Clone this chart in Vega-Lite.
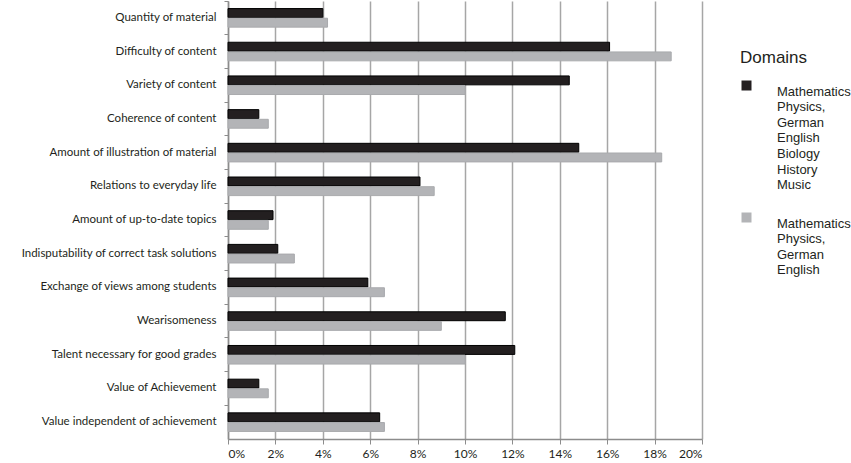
{
  "$schema": "https://vega.github.io/schema/vega-lite/v6.json",
  "autosize": "none",
  "width": 474,
  "height": 438,
  "padding": {"left": 228, "top": 1, "right": 149, "bottom": 24},
  "background": "white",
  "data": {
    "values": [
      {"item": "Quantity of material", "domain": "A", "value": 4.0},
      {"item": "Quantity of material", "domain": "B", "value": 4.2},
      {"item": "Difficulty of content", "domain": "A", "value": 16.1},
      {"item": "Difficulty of content", "domain": "B", "value": 18.7},
      {"item": "Variety of content", "domain": "A", "value": 14.4},
      {"item": "Variety of content", "domain": "B", "value": 10.0},
      {"item": "Coherence of content", "domain": "A", "value": 1.3},
      {"item": "Coherence of content", "domain": "B", "value": 1.7},
      {"item": "Amount of illustration of material", "domain": "A", "value": 14.8},
      {"item": "Amount of illustration of material", "domain": "B", "value": 18.3},
      {"item": "Relations to everyday life", "domain": "A", "value": 8.1},
      {"item": "Relations to everyday life", "domain": "B", "value": 8.7},
      {"item": "Amount of up-to-date topics", "domain": "A", "value": 1.9},
      {"item": "Amount of up-to-date topics", "domain": "B", "value": 1.7},
      {"item": "Indisputability of correct task solutions", "domain": "A", "value": 2.1},
      {"item": "Indisputability of correct task solutions", "domain": "B", "value": 2.8},
      {"item": "Exchange of views among students", "domain": "A", "value": 5.9},
      {"item": "Exchange of views among students", "domain": "B", "value": 6.6},
      {"item": "Wearisomeness", "domain": "A", "value": 11.7},
      {"item": "Wearisomeness", "domain": "B", "value": 9.0},
      {"item": "Talent necessary for good grades", "domain": "A", "value": 12.1},
      {"item": "Talent necessary for good grades", "domain": "B", "value": 10.0},
      {"item": "Value of Achievement", "domain": "A", "value": 1.3},
      {"item": "Value of Achievement", "domain": "B", "value": 1.7},
      {"item": "Value independent of achievement", "domain": "A", "value": 6.4},
      {"item": "Value independent of achievement", "domain": "B", "value": 6.6}
    ]
  },
  "mark": {"type": "bar", "strokeWidth": 1},
  "encoding": {
    "y": {
      "field": "item",
      "type": "nominal",
      "sort": null,
      "title": null,
      "scale": {"paddingInner": 0, "paddingOuter": 0},
      "axis": {
        "bandPosition": 0,
        "labelFont": "Lato",
        "labelFontSize": 11.5,
        "labelColor": "#231f20",
        "labelPadding": 8,
        "labelLimit": 260,
        "labelOffset": 0,
        "tickSize": 4,
        "tickColor": "#8c8c8c",
        "domainColor": "#8c8c8c",
        "domainWidth": 1.5,
        "grid": false
      }
    },
    "yOffset": {
      "field": "domain",
      "type": "nominal",
      "sort": ["A", "B"],
      "scale": {"paddingInner": 0.08, "paddingOuter": 0.78}
    },
    "x": {
      "field": "value",
      "type": "quantitative",
      "title": null,
      "scale": {"domain": [0, 20], "nice": false},
      "axis": {
        "values": [0, 2, 4, 6, 8, 10, 12, 14, 16, 18, 20],
        "labelExpr": "datum.value + '%'",
        "labelFont": "Lato",
        "labelFontSize": 12,
        "labelColor": "#231f20",
        "labelPadding": 4,
        "tickSize": 5,
        "tickColor": "#8c8c8c",
        "domainColor": "#8c8c8c",
        "domainWidth": 1.5,
        "grid": true,
        "gridColor": "#a6a6a6",
        "gridWidth": 1.5
      }
    },
    "color": {
      "field": "domain",
      "type": "nominal",
      "scale": {"domain": ["A", "B"], "range": ["#231f20", "#b3b4b7"]},
      "legend": {
        "title": "Domains",
        "orient": "none",
        "legendX": 512,
        "legendY": 49,
        "titleFont": "Liberation Sans",
        "titleFontSize": 17,
        "titleFontWeight": "normal",
        "titleColor": "#231f20",
        "titlePadding": 12,
        "labelExpr": "datum.value == 'A' ? ['Mathematics', 'Physics,', 'German', 'English', 'Biology', 'History', 'Music'] : ['Mathematics', 'Physics,', 'German', 'English']",
        "labelFont": "Liberation Sans",
        "labelFontSize": 13,
        "labelColor": "#231f20",
        "labelBaseline": "top",
        "labelOffset": 24,
        "labelLimit": 200,
        "symbolType": "square",
        "symbolSize": 100,
        "symbolStrokeWidth": 0,
        "rowPadding": 18,
        "encode": {"labels": {"update": {"lineHeight": {"value": 15.6}}}}
      }
    },
    "stroke": {
      "field": "domain",
      "type": "nominal",
      "scale": {"domain": ["A", "B"], "range": ["#000000", "#a9aaad"]},
      "legend": null
    }
  },
  "config": {"view": {"stroke": null}}
}
